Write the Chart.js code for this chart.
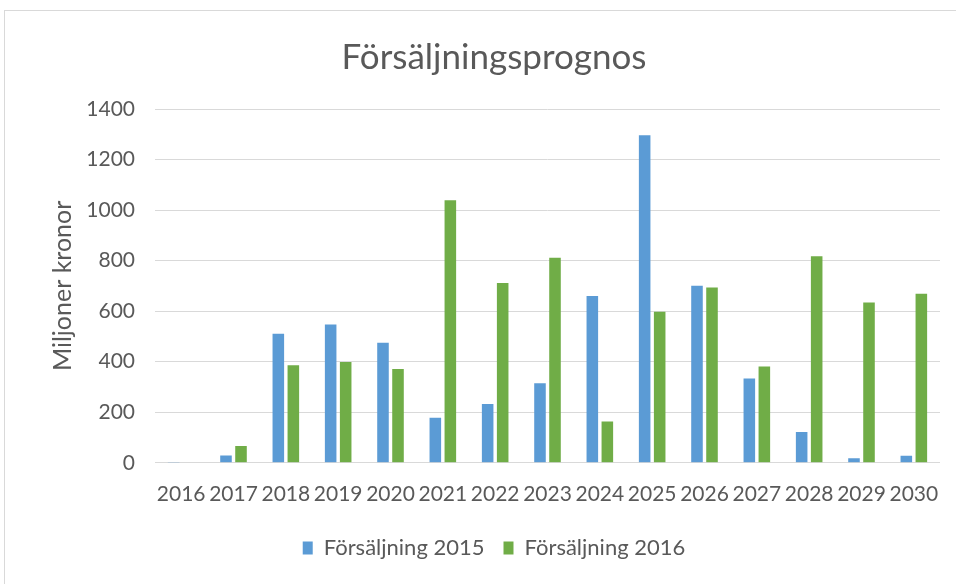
<!DOCTYPE html>
<html>
<head>
<meta charset="utf-8">
<script src="https://cdn.jsdelivr.net/npm/chart.js@4"></script>
<style>
  html, body { margin: 0; padding: 0; background: #fff; }
  #wrap { position: relative; width: 956px; height: 584px; overflow: hidden; }
  #frame { position: absolute; left: 4px; top: 10px; width: 1000px; height: 1000px; border: 1px solid #d9d9d9; }
  #chart { position: absolute; left: 0; top: 0; }
</style>
</head>
<body>
<div id="wrap">
  <div id="frame"></div>
  <canvas id="chart" width="956" height="584"></canvas>
</div>
<script>
const years = ["2016", "2017", "2018", "2019", "2020", "2021", "2022", "2023",
               "2024", "2025", "2026", "2027", "2028", "2029", "2030"];
const sales_2015 = [3, 29, 511, 547, 475, 178, 233, 315, 660, 1296, 701, 334, 122, 18, 28];
const sales_2016 = [0, 66, 386, 399, 371, 1039, 711, 811, 163, 598, 694, 381, 817, 634, 669];

const font_family = "Lato, 'Open Sans', sans-serif";
const text_color = "#595959";

new Chart(document.getElementById("chart"), {
  type: 'bar',
  data: {
    labels: years,
    datasets: [{
      label: "Försäljning 2015",
      data: sales_2015,
      backgroundColor: "#5B9BD5",
      categoryPercentage: 0.574,
      barPercentage: 0.77
    },
    {
      label: "Försäljning 2016",
      data: sales_2016,
      backgroundColor: "#70AD47",
      categoryPercentage: 0.574,
      barPercentage: 0.77
    }]
  },
  options: {
    responsive: false,
    animation: false,
    layout: {
      padding: { left: 48, right: 16, top: 37, bottom: 15 }
    },
    plugins: {
      title: {
        display: true,
        text: "Försäljningsprognos",
        color: text_color,
        font: { family: font_family, size: 35, weight: 'normal' },
        padding: { top: 0, bottom: 30 }
      },
      legend: {
        position: "bottom",
        labels: {
          color: text_color,
          font: { family: font_family, size: 22 },
          boxWidth: 10,
          boxHeight: 13,
          padding: 19
        }
      },
      tooltip: { enabled: false }
    },
    scales: {
      x: {
        grid: { display: false },
        border: { display: false },
        ticks: {
          color: text_color,
          font: { family: font_family, size: 21 },
          padding: 11,
          maxRotation: 0,
          autoSkip: false
        }
      },
      y: {
        min: 0,
        max: 1400,
        ticks: {
          stepSize: 200,
          color: text_color,
          font: { family: font_family, size: 21 },
          padding: 20,
          callback: v => String(v)
        },
        grid: { color: "#d9d9d9", drawTicks: false },
        border: { display: false },
        title: {
          display: true,
          text: "Miljoner kronor",
          color: text_color,
          font: { family: font_family, size: 25 },
          padding: { top: 0, bottom: 4 }
        },
        afterFit: function(scale) { scale.width = 107; }
      }
    }
  }
});
</script>
</body>
</html>
